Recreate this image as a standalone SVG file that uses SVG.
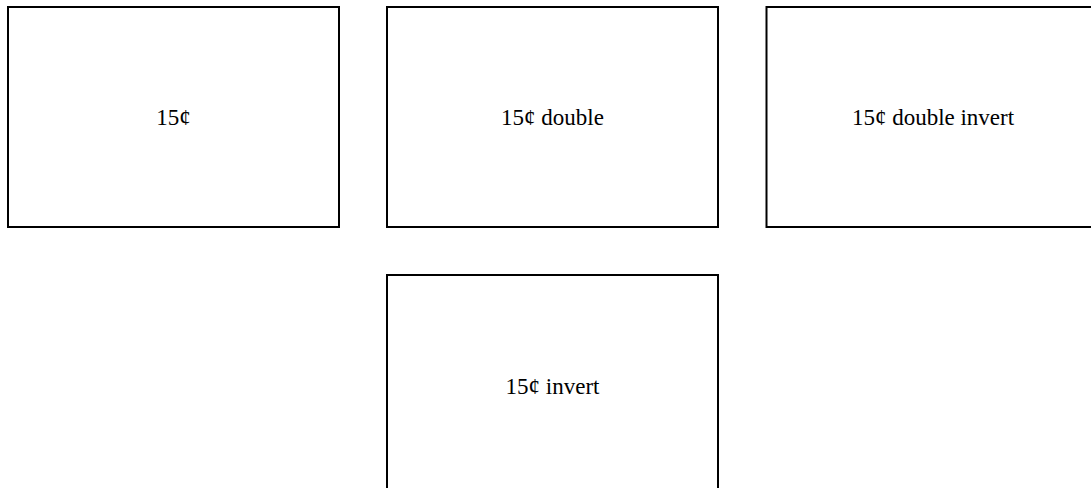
<svg xmlns="http://www.w3.org/2000/svg" width="1091" height="488" viewBox="0 0 1091 488">
<style>
.box{fill:#fff;stroke:#000;stroke-width:2}
.lbl{font-family:"Liberation Serif",serif;font-size:23px;fill:#000;text-anchor:middle}
</style>
<rect width="1091" height="488" fill="#fff"/>
<g id="connectors"></g>
<g id="n1"><rect class="box" x="8" y="7" width="331" height="220"/><text class="lbl" x="173.5" y="125">15¢</text></g>
<g id="n2"><rect class="box" x="387" y="7" width="331" height="220"/><text class="lbl" x="552.5" y="125">15¢ double</text></g>
<g id="n3"><rect class="box" x="766.5" y="7" width="331" height="220"/><text class="lbl" x="933" y="125">15¢ double invert</text></g>
<g id="n4"><rect class="box" x="387" y="275" width="331" height="220"/><text class="lbl" x="552.5" y="394">15¢ invert</text></g>
</svg>
